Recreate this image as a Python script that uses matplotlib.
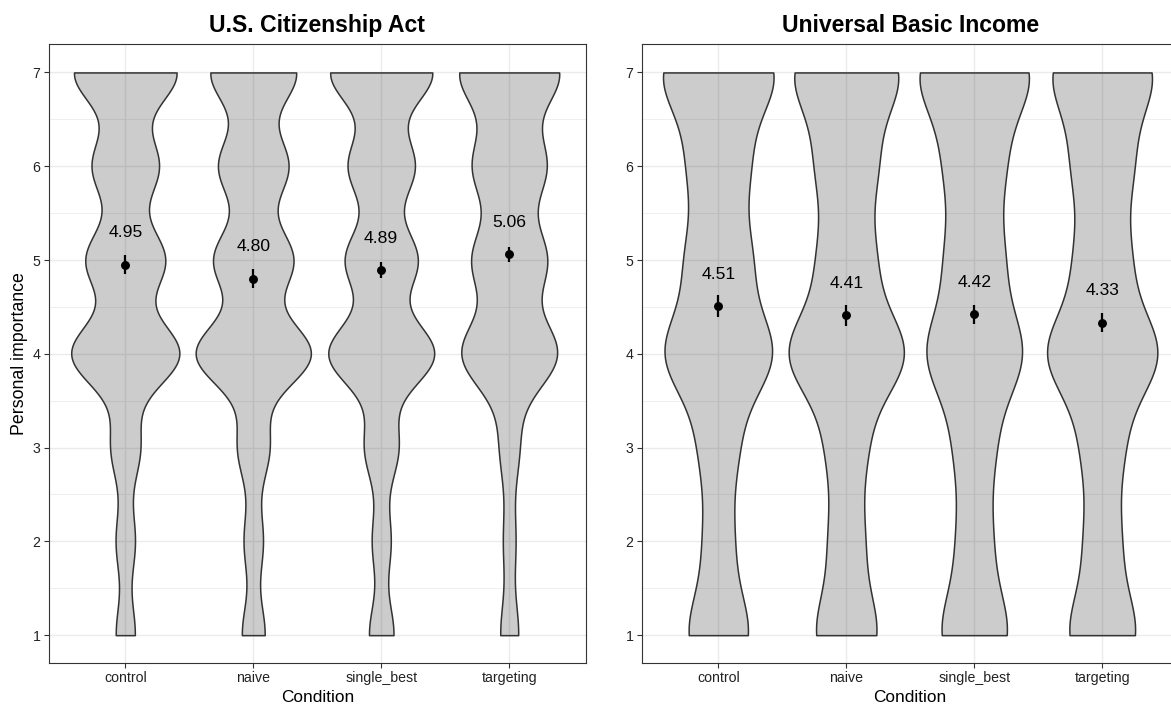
import numpy as np
import matplotlib.pyplot as plt

plt.rcParams['font.family'] = ['Liberation Sans', 'DejaVu Sans']

conditions = ['control', 'naive', 'single_best', 'targeting']
levels = [1, 2, 3, 4, 5, 6, 7]

# responses per level 1..7 for each condition
citizenship_counts = [
    [45, 45, 69, 255, 186, 156, 243],
    [54, 45, 75, 272, 187, 164, 203],
    [58, 44, 80, 250, 170, 156, 242],
    [46, 31, 49, 244, 188, 185, 256],
]
ubi_counts = [
    [132, 60, 78, 231, 133, 121, 245],
    [133, 71, 80, 250, 114, 122, 229],
    [149, 71, 82, 209, 119, 121, 249],
    [147, 73, 84, 241, 111, 122, 221],
]

citizenship_means = [4.95, 4.80, 4.89, 5.06]
citizenship_ci = [0.10, 0.10, 0.085, 0.08]
ubi_means = [4.51, 4.41, 4.42, 4.33]
ubi_ci = [0.117, 0.113, 0.10, 0.10]

W, H = 1171, 708


def nrd0(x):
    sd = np.std(x, ddof=1)
    q75, q25 = np.percentile(x, [75, 25])
    lo = min(sd, (q75 - q25) / 1.34)
    return 0.9 * lo * len(x) ** -0.2


def violin_density(counts, grid):
    data = np.repeat(levels, counts)
    h = nrd0(data)
    lv = np.array(levels)[None, :]
    k = np.exp(-0.5 * ((grid[:, None] - lv) / h) ** 2)
    return (k * np.array(counts)[None, :]).sum(axis=1) / (len(data) * h * np.sqrt(2 * np.pi))


def draw_panel(ax, counts, means, ci, title, ylabel=None):
    grid = np.linspace(1, 7, 512)
    dens = [violin_density(c, grid) for c in counts]
    dmax = max(d.max() for d in dens)

    for i, d in enumerate(dens):
        x = i + 1
        hw = 0.45 * d / dmax
        ax.fill_betweenx(grid, x - hw, x + hw, facecolor=(0, 0, 0, 0.2),
                         edgecolor='#333333', linewidth=1.1, zorder=2)
        ax.vlines(x, means[i] - ci[i], means[i] + ci[i], color='black',
                  linewidth=1.6, zorder=3)
        ax.plot(x, means[i], 'o', color='black', markersize=5.4, zorder=4)
        ax.text(x, means[i] + 0.34, '%.2f' % means[i], ha='center', va='center',
                fontsize=12.6, color='black', zorder=5)

    ax.set_xlim(0.4, 4.6)
    ax.set_ylim(0.7, 7.3)
    ax.set_xticks(range(1, 5))
    ax.set_xticklabels(conditions)
    ax.set_yticks(levels)
    ax.set_yticks(np.arange(1.5, 7, 1.0), minor=True)
    ax.grid(which='major', color='#EBEBEB', linewidth=1.0, zorder=0)
    ax.grid(which='minor', axis='y', color='#EBEBEB', linewidth=0.55, zorder=0)
    ax.set_axisbelow(True)
    ax.tick_params(which='major', length=3.3, width=0.8, color='#333333',
                   labelsize=10.2, labelcolor='#222222', pad=2.5)
    ax.tick_params(which='minor', length=0)
    for s in ax.spines.values():
        s.set_color('#333333')
        s.set_linewidth(0.8)

    ax.set_title(title, fontsize=16.6, fontweight='bold', pad=9)
    ax.set_xlabel('Condition', fontsize=12.4, labelpad=3)
    if ylabel:
        ax.set_ylabel(ylabel, fontsize=12.8, labelpad=3)


fig = plt.figure(figsize=(W / 100, H / 100), dpi=100)
bottom = (H - 663.3) / H
height = (663.3 - 44.3) / H
ax1 = fig.add_axes([48.5 / W, bottom, 537.5 / W, height])
ax2 = fig.add_axes([641.5 / W, bottom, 537.5 / W, height])

draw_panel(ax1, citizenship_counts, citizenship_means, citizenship_ci,
           'U.S. Citizenship Act', ylabel='Personal importance')
draw_panel(ax2, ubi_counts, ubi_means, ubi_ci, 'Universal Basic Income')

fig.savefig('out.png', dpi=100)
